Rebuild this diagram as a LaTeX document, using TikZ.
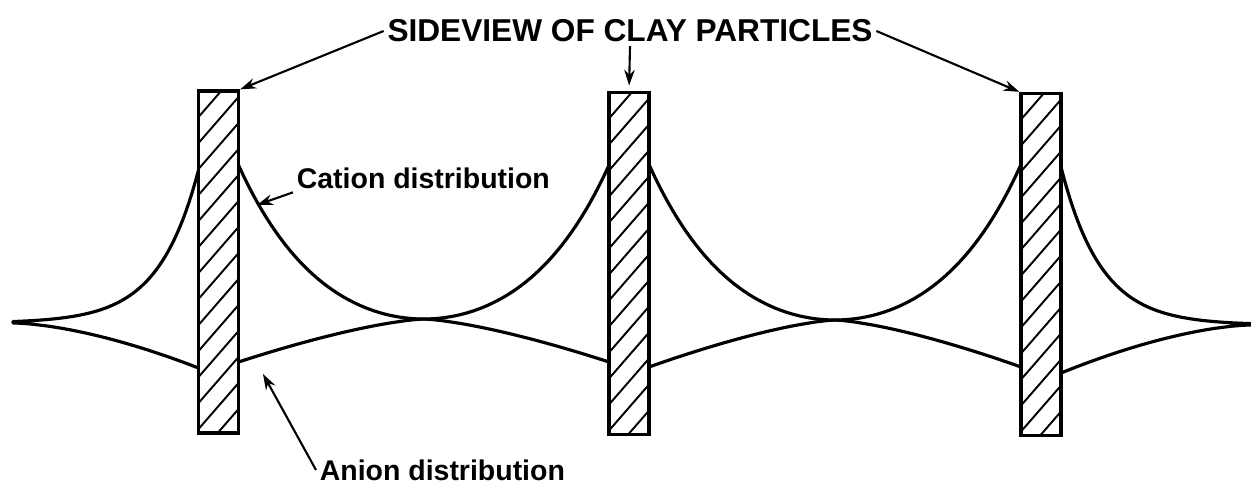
\documentclass[tikz,border=0pt]{standalone}
\usepackage{fontspec}
\setmainfont{Liberation Sans}
\usetikzlibrary{arrows.meta}

\tikzset{
  particle/.style={draw, line width=1.9pt, fill=white, inner sep=0pt,
    minimum width=0.8cm, minimum height=6.84cm,
    path picture={\foreach \k in {0,...,16}
      \draw[line width=1.1pt] (path picture bounding box.north west) ++(0,\k*26) -- ++(40,-46);}},
  lbl/.style={font=\bfseries\fontsize{16.2}{19}\selectfont, inner sep=2pt},
  curve/.style={line width=1.8pt, line join=round, samples=80},
  arr/.style={->, line width=1.2pt},
}

\begin{document}
\begin{tikzpicture}[x=0.02cm, y=-0.02cm, >={Stealth[length=9pt,width=6pt]}]
  \useasboundingbox (0,0) rectangle (1251,489);

  % Left outer lobe
  \draw[curve] plot[domain=198.5:13] (\x, {323-153*exp(-(198.5-\x)/40)})
    -- plot[domain=13:198.5] (\x, {323+45*pow(max((\x-13)/185.5,0.001),1.6)});

  % Gap between particles 1 and 2
  \draw[curve, domain=238.5:609] plot (\x, {319-53*(cosh(0.011*(\x-423.75))-1)});
  \draw[curve, domain=238.5:609] plot (\x, {319+43*pow(max(abs(\x-423.75)/185.25,0.001),1.4)});

  % Gap between particles 2 and 3
  \draw[curve, domain=649:1021] plot (\x, {320-53*(cosh(0.011*(\x-835))-1)});
  \draw[curve, domain=649:1021] plot (\x, {320+47*pow(max(abs(\x-835)/186,0.001),1.4)});

  % Right outer lobe
  \draw[curve] plot[domain=1061:1251] (\x, {325-158*exp(-(\x-1061)/40)})
    -- plot[domain=1251:1061] (\x, {325+48*pow(max((1251-\x)/190,0.001),1.6)});

  % Clay particles
  \node[particle] (p1) at (218.5,262) {};
  \node[particle] (p2) at (629,263.5) {};
  \node[particle] (p3) at (1041,264.5) {};

  % Labels
  \node[lbl, font=\bfseries\fontsize{18}{21}\selectfont] (title) at (630,31) {SIDEVIEW OF CLAY PARTICLES};
  \draw[arr] (title.west) -- (p1.north east);
  \draw[arr, shorten >=3pt] (title.south) -- (p2.north);
  \draw[arr] (title.east) -- (p3.north west);

  \node[lbl, anchor=west] (cation) at (293,178) {Cation distribution};
  \coordinate (cpt) at (257,205);
  \draw[arr] (cation.south west) -- (cpt);

  \node[lbl, anchor=west] (anion) at (316,470) {Anion distribution};
  \coordinate (apt) at (263,374);
  \draw[arr] (anion.west) -- (apt);
\end{tikzpicture}
\end{document}
